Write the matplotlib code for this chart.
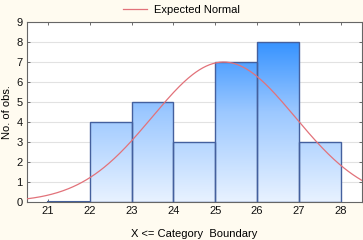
import numpy as np
import matplotlib
matplotlib.use("Agg")
import matplotlib.pyplot as plt
from matplotlib.colors import LinearSegmentedColormap
from matplotlib.lines import Line2D

plt.rcParams['font.family'] = ['Liberation Sans', 'DejaVu Sans']

# histogram data: upper category boundaries and counts
bin_edges = [21, 22, 23, 24, 25, 26, 27, 28]
counts = [0, 4, 5, 3, 7, 8, 3]

# fitted normal parameters
n_obs = 30
fit_mean = 25.2
fit_sd = 1.71

x_ticks = [21, 22, 23, 24, 25, 26, 27, 28]
y_ticks = list(range(0, 10))

bg = '#fffbf0'
fig = plt.figure(figsize=(3.63, 2.40), dpi=100, facecolor=bg)
ax = fig.add_axes([0.0744, 0.1583, 0.922, 0.75])
ax.set_facecolor('white')

ax.set_xlim(20.5, 28.5)
ax.set_ylim(0, 9)

# horizontal grid
for yv in y_ticks[1:]:
    ax.axhline(yv, color='#e2e2e2', lw=0.8, zorder=0)

cmap = LinearSegmentedColormap.from_list('bl', ['#e8f2ff', '#9cc8ff', '#1a84ff'])
for i, c in enumerate(counts):
    x0, x1 = bin_edges[i], bin_edges[i + 1]
    if c > 0:
        g = np.linspace(0, c / 9.0, 256).reshape(-1, 1)
        ax.imshow(g, cmap=cmap, vmin=0, vmax=1, origin='lower', aspect='auto',
                  extent=[x0, x1, 0, c], zorder=1, interpolation='bilinear')
    ax.bar(x0, c, width=x1 - x0, align='edge', facecolor='none',
           edgecolor='#44609e', lw=1.0, zorder=2)
ax.plot([bin_edges[0], bin_edges[1]], [0, 0], color='#44609e', lw=1.5, zorder=2)

xs = np.linspace(20.5, 28.5, 300)
ys = n_obs * (bin_edges[1] - bin_edges[0]) / (fit_sd * np.sqrt(2 * np.pi)) * \
    np.exp(-0.5 * ((xs - fit_mean) / fit_sd) ** 2)
ax.plot(xs, ys, color='#e2727a', lw=0.9, zorder=3)

ax.set_xlim(20.5, 28.5)
ax.set_ylim(0, 9)
ax.set_xticks(x_ticks)
ax.set_yticks(y_ticks)
ax.tick_params(direction='in', length=2, width=0.6, color='#555555',
               labelsize=8, top=True, right=True, pad=3, labelcolor='#111111')
for s in ax.spines.values():
    s.set_color('#666666')
    s.set_linewidth(0.8)

ax.set_xlabel('X <= Category  Boundary', fontsize=8, labelpad=9)
ax.set_ylabel('No. of obs.', fontsize=8, labelpad=3)

h = Line2D([], [], color='#e2727a', lw=0.9)
fig.legend([h], ['Expected Normal'], loc='upper center',
           bbox_to_anchor=(0.5, 1.02), frameon=False, fontsize=8,
           handlelength=2.2, handletextpad=0.6)

fig.savefig('out.png', dpi=100, facecolor=bg)
